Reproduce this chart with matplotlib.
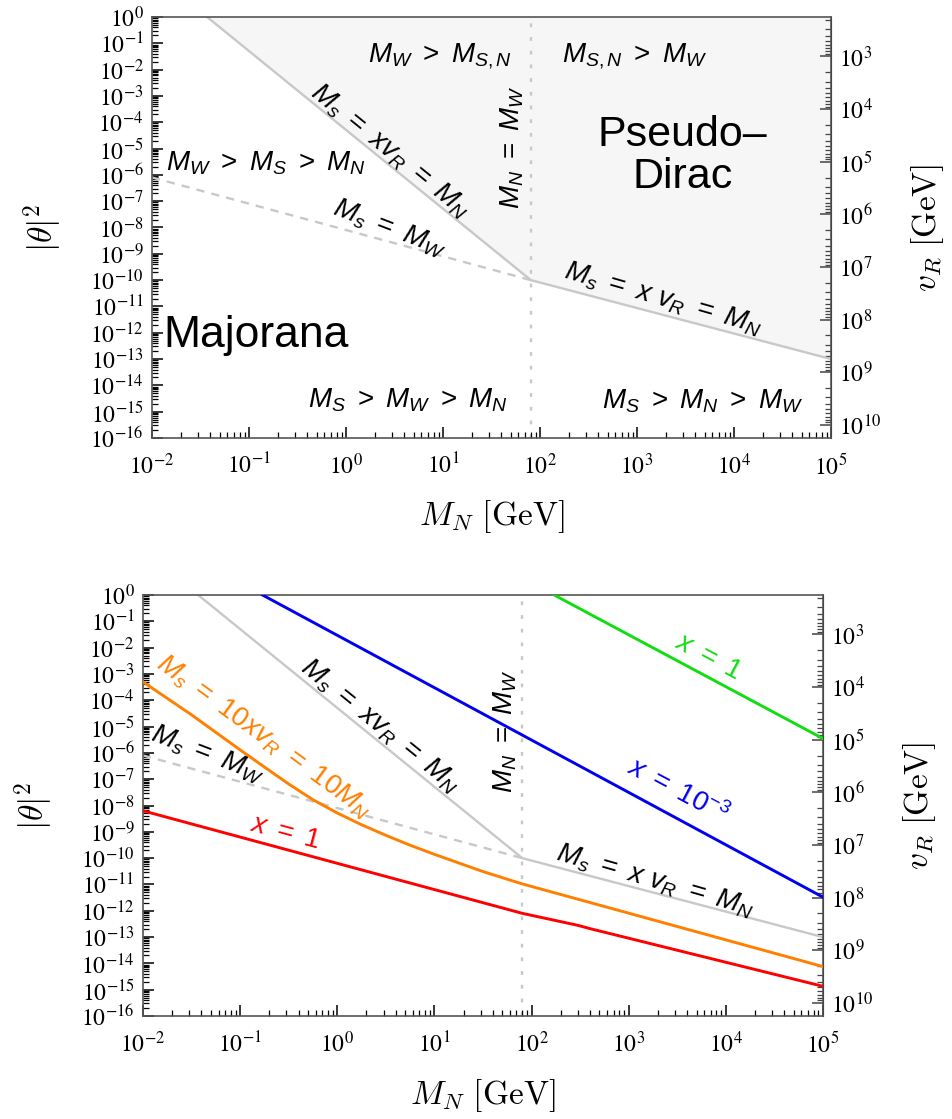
import numpy as np
import matplotlib.pyplot as plt
from matplotlib.ticker import LogLocator, NullFormatter

plt.rcParams['font.family'] = 'STIXGeneral'
plt.rcParams['mathtext.fontset'] = 'stix'
plt.rcParams['mathtext.rm'] = 'Liberation Sans'
plt.rcParams['mathtext.it'] = 'Liberation Sans:italic'
plt.rcParams['mathtext.bf'] = 'Liberation Sans:bold'

# values: M_N [GeV] vs |theta|^2
mn_xvr = [0.037, 80.4, 1e5]            # M_s = x v_R = M_N (solid grey)
th_xvr = [1.0, 1e-10, 1e-13]
mn_mw = [0.01, 80.4]                   # M_s = M_W (dashed grey)
th_mw = [8e-7, 1e-10]
mn_w = 80.4                            # M_N = M_W

mn_red = [0.01, 80.4, 300, 400, 1e5]              # x = 1
th_red = [6.3e-9, 8e-13, 2.8e-13, 2.1e-13, 1.35e-15]
mn_orange = [0.01, 0.0316, 0.1, 0.178, 0.316, 0.562, 1, 1.78, 3.16, 5.62,
             10, 31.6, 80.4, 1e5]
th_orange = [5.0e-4, 2.8e-5, 1.3e-6, 2.9e-7, 6.6e-8, 1.66e-8, 5.2e-9, 1.86e-9,
             7.4e-10, 3.1e-10, 1.4e-10, 3.1e-11, 1.05e-11, 7.6e-15]
mn_blue = [0.17, 1e5]                  # x = 1e-3
th_blue = [1.0, 3.3e-12]
mn_green = [171, 1e5]                  # x = 1
th_green = [1.0, 3.5e-6]

vr_ticks = [1e3, 1e4, 1e5, 1e6, 1e7, 1e8, 1e9, 1e10]
vr_top = 10 ** 2.25   # v_R where |theta|^2 = 1

GREY = '#c8c8c8'
FILL = '#f6f6f6'


def th2vr(t):
    t = np.clip(np.asarray(t, dtype=float), 1e-300, None)
    return vr_top / np.sqrt(t)


def vr2th(v):
    v = np.clip(np.asarray(v, dtype=float), 1e-300, None)
    return (vr_top / v) ** 2


def setup(ax):
    ax.set_xscale('log')
    ax.set_yscale('log')
    ax.set_xlim(1e-2, 1e5)
    ax.set_ylim(1e-16, 1)
    for axis in (ax.xaxis, ax.yaxis):
        axis.set_major_locator(LogLocator(base=10, numticks=40))
        axis.set_minor_locator(LogLocator(base=10, subs=np.arange(2, 10), numticks=40))
        axis.set_minor_formatter(NullFormatter())
    ax.tick_params(which='both', direction='in', top=False, right=False,
                   labelsize=17, color='black')
    ax.tick_params(axis='x', which='major', pad=11)
    ax.tick_params(axis='y', which='major', pad=6)
    ax.tick_params(which='major', length=8, width=1.1)
    ax.tick_params(which='minor', length=4.5, width=0.9)
    for s in ax.spines.values():
        s.set_color('#555555')
        s.set_linewidth(1.2)

    sec = ax.secondary_yaxis('right', functions=(th2vr, vr2th))
    sec.set_yticks(vr_ticks)
    sec.yaxis.set_minor_locator(LogLocator(base=10, subs=np.arange(2, 10), numticks=40))
    sec.yaxis.set_minor_formatter(NullFormatter())
    sec.tick_params(which='both', direction='in', labelsize=17, color='#444444')
    sec.tick_params(which='major', length=8, width=1.1, pad=6)
    sec.tick_params(which='minor', length=4.5, width=0.9)
    sec.set_ylabel(r'$v_R\ [\mathrm{GeV}]$', math_fontfamily='cm', fontsize=24, labelpad=20)

    ax.set_xlabel(r'$M_N\ [\mathrm{GeV}]$', math_fontfamily='cm', fontsize=24, labelpad=14)
    ax.set_ylabel(r'$|\theta|^2$', math_fontfamily='cm', fontsize=24, labelpad=18)

    # common grey boundaries
    ax.plot(mn_xvr, th_xvr, color=GREY, lw=1.7, zorder=2)
    ax.plot(mn_mw, th_mw, color=GREY, lw=1.7, ls=(0, (3.5, 3.0)), zorder=2)
    ax.axvline(mn_w, color=GREY, lw=1.7, ls=(0, (1.6, 4.2)), zorder=1)


def note(ax, x, y, s, rot=0, size=20, color='black', **kw):
    ax.text(x, y, s, rotation=rot, rotation_mode='anchor', ha='center', va='center',
            fontsize=size, color=color, math_fontfamily='custom', **kw)


fig = plt.figure(figsize=(9.53, 11.19), dpi=100)
ax1 = fig.add_axes([0.1595, 0.6086, 0.7125, 0.3762])
ax2 = fig.add_axes([0.1500, 0.0920, 0.7135, 0.3763])

# ---- top panel: regions
setup(ax1)
ax1.fill_between(mn_xvr, th_xvr, 1, color=FILL, lw=0, zorder=0)

note(ax1, 9.3, 0.033, r'$M_W\ >\ M_{S,N}$')
note(ax1, 950, 0.033, r'$M_{S,N}\ >\ M_W$')
note(ax1, 52, 1.1e-5, r'$M_N\ =\ M_W$', rot=90)
ax1.text(2950, 5.2e-6, 'Pseudo–\nDirac', ha='center', va='center', fontsize=31,
         family='Liberation Sans', linespacing=1.05)
note(ax1, 0.15, 2.8e-6, r'$M_W\ >\ M_S\ >\ M_N$')
note(ax1, 2.84, 8e-6, r'$M_s\ =\ x v_R\ =\ M_N$', rot=-39)
note(ax1, 2.84, 9.5e-9, r'$M_s\ =\ M_W$', rot=-21)
ax1.text(0.117, 8e-13, 'Majorana', ha='center', va='center', fontsize=32,
         family='Liberation Sans')
note(ax1, 1870, 1.9e-11, r'$M_s\ =\ x\ v_R\ =\ M_N$', rot=-16)
note(ax1, 4.4, 2.7e-15, r'$M_S\ >\ M_W\ >\ M_N$')
note(ax1, 4800, 2.5e-15, r'$M_S\ >\ M_N\ >\ M_W$')

# ---- bottom panel: lines for fixed x
setup(ax2)
ax2.plot(mn_red, th_red, color='#ff0000', lw=2.1, zorder=3)
ax2.plot(mn_orange, th_orange, color='#ff8000', lw=2.1, zorder=3)
ax2.plot(mn_blue, th_blue, color='#0000ee', lw=2.1, zorder=3)
ax2.plot(mn_green, th_green, color='#11dd11', lw=2.1, zorder=3)

note(ax2, 0.176, 4e-6, r'$M_s\ =\ 10 x v_R\ =\ 10 M_N$', rot=-36, color='#ff8000')
note(ax2, 0.046, 8.3e-7, r'$M_s\ =\ M_W$', rot=-21)
note(ax2, 2.8, 1.05e-5, r'$M_s\ =\ x v_R\ =\ M_N$', rot=-39)
note(ax2, 54, 6.8e-6, r'$M_N\ =\ M_W$', rot=90)
note(ax2, 1860, 1.35e-11, r'$M_s\ =\ x\ v_R\ =\ M_N$', rot=-16)
note(ax2, 0.29, 8.9e-10, r'$x\ =\ 1$', rot=-15, color='#ff0000')
note(ax2, 6600, 4.4e-3, r'$x\ =\ 1$', rot=-28, color='#11dd11')
note(ax2, 3160, 3.5e-8, r'$x\ =\ 10^{-3}$', rot=-28, color='#0000ee')

fig.savefig('out.png', dpi=100)
